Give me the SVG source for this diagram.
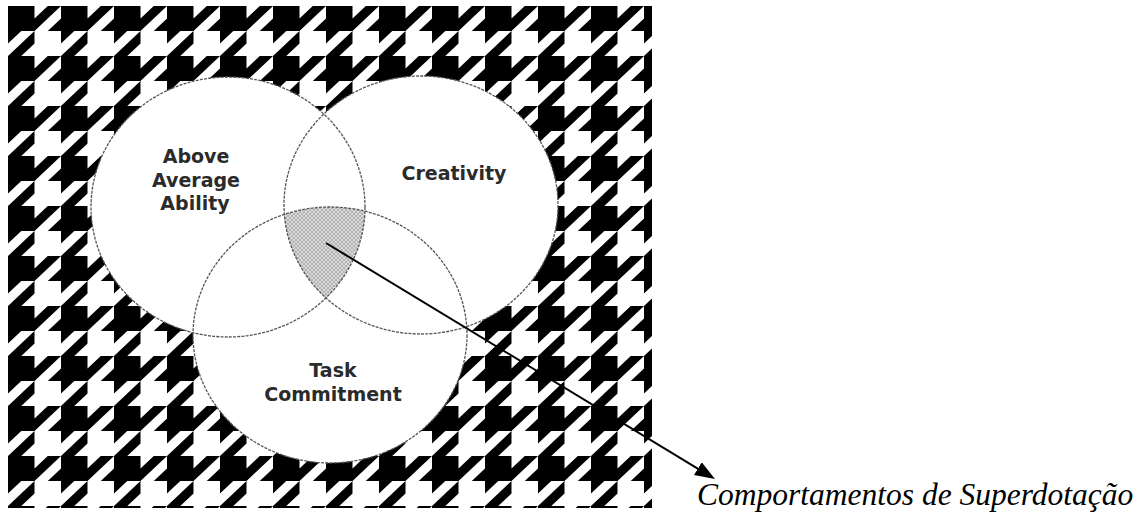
<svg xmlns="http://www.w3.org/2000/svg" width="1143" height="518" viewBox="0 0 1143 518">
  <defs>
    <style>
      .ring { fill: none; stroke: #555; stroke-width: 1.3; stroke-dasharray: 3 1.2; }
      .disc { fill: #fff; stroke: none; }
      .lbl { font-family: "DejaVu Sans", "Liberation Sans", sans-serif; font-weight: bold; font-size: 19px; fill: #2b2b2b; text-anchor: middle; }
      .cap { font-family: "Liberation Serif", "Times New Roman", serif; font-style: italic; font-size: 31.5px; fill: #000; }
      .conn { stroke: #000; stroke-width: 2; fill: none; }
    </style>
    <pattern id="hound" patternUnits="userSpaceOnUse" x="8" y="6" width="53" height="50" viewBox="0 0 8 8" preserveAspectRatio="none">
      <rect x="0" y="0" width="8" height="8" fill="#fff"/>
      <path d="M0,0 L4,0 L4,2 L6,0 L8,0 L4,4 L2,4 L0,6 Z" fill="#000"/>
      <path d="M6,4 L8,2 L8,4 Z" fill="#000"/>
      <path d="M0,8 L4,4 L4,6 L2,8 Z" fill="#000"/>
    </pattern>
    <pattern id="hatch" patternUnits="userSpaceOnUse" width="4" height="4">
      <rect width="4" height="4" fill="#dadada"/>
      <path d="M0,4 L4,0 M0,0 L4,4" stroke="#a8a8a8" stroke-width="0.8"/>
    </pattern>
    <clipPath id="clipC"><ellipse cx="421" cy="205" rx="137" ry="129"/></clipPath>
    <clipPath id="clipT"><ellipse cx="330" cy="335" rx="137" ry="128"/></clipPath>
    <marker id="arrow" markerUnits="userSpaceOnUse" markerWidth="22" markerHeight="16" refX="8" refY="7.5" orient="auto">
      <path d="M0,0 L20,7.5 L0,15 Z" fill="#000"/>
    </marker>
  </defs>

  <g id="background">
    <rect x="8" y="6" width="644" height="502" fill="url(#hound)"/>
  </g>

  <g id="discs">
    <ellipse class="disc" cx="228" cy="207" rx="137" ry="130"/>
    <ellipse class="disc" cx="421" cy="205" rx="137" ry="129"/>
    <ellipse class="disc" cx="330" cy="335" rx="137" ry="128"/>
  </g>

  <g id="overlap">
    <g clip-path="url(#clipT)">
      <ellipse cx="228" cy="207" rx="137" ry="130" fill="url(#hatch)" clip-path="url(#clipC)"/>
    </g>
  </g>

  <g id="node-ability">
    <ellipse class="ring" cx="228" cy="207" rx="137" ry="130"/>
    <text class="lbl" x="196" y="163">Above</text>
    <text class="lbl" x="196" y="187">Average</text>
    <text class="lbl" x="195" y="210">Ability</text>
  </g>

  <g id="node-creativity">
    <ellipse class="ring" cx="421" cy="205" rx="137" ry="129"/>
    <text class="lbl" x="454" y="180">Creativity</text>
  </g>

  <g id="node-task">
    <ellipse class="ring" cx="330" cy="335" rx="137" ry="128"/>
    <text class="lbl" x="333" y="377">Task</text>
    <text class="lbl" x="333" y="401">Commitment</text>
  </g>

  <g id="connectors">
    <path class="conn" d="M326,243 L704.7,472.8" marker-end="url(#arrow)"/>
  </g>

  <g id="node-caption">
    <text class="cap" x="697" y="505">Comportamentos de Superdotação</text>
  </g>
</svg>
